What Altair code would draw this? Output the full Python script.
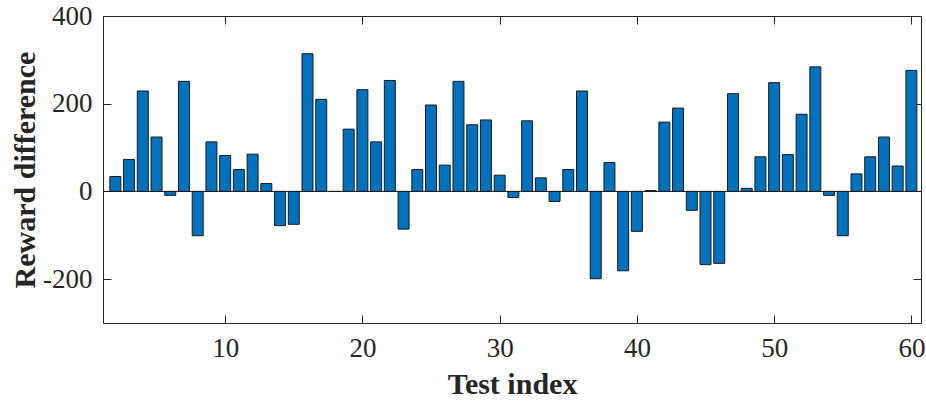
import altair as alt
import pandas as pd

test_index = list(range(2, 61))
reward_diff = [34, 73, 229, 124, -9, 251, -101, 113, 82, 50, 85, 18, -78, -75, 314, 210, 0, 142, 232,
               113, 253, -86, 50, 197, 60, 251, 152, 163, 37, -14, 161, 31, -23, 50, 229, -199, 66, -181, -91,
               2, 158, 190, -43, -167, -164, 223, 7, 79, 248, 84, 176, 284, -9, -101, 40, 79, 124, 58, 276]
x_ticks = [10, 20, 30, 40, 50, 60]
y_ticks = [-200, 0, 200, 400]
x_domain = [1.1, 60.7]
y_domain = [-300, 400]

df = pd.DataFrame({"idx": test_index, "val": reward_diff})
zero_df = pd.DataFrame({"z": [0]})

FONT = "Liberation Serif"
INK = "#262626"
W, H = 818, 307

xs = alt.Scale(domain=x_domain, nice=False, zero=False)
ys = alt.Scale(domain=y_domain, nice=False, zero=False)

common = dict(offset=-8, tickSize=8, domain=False, grid=False, tickColor=INK, tickWidth=1,
              labelFont=FONT, labelFontSize=27, labelColor=INK, labelFlush=False,
              labelOverlap=False)

x_bottom = alt.Axis(orient="bottom", values=x_ticks, labelPadding=12,
                    title="Test index", titleFont=FONT, titleFontSize=30, titleFontWeight="bold",
                    titleColor=INK, titleX=W / 2, titleY=78, titleBaseline="alphabetic",
                    titleAlign="center", **common)
y_left = alt.Axis(orient="left", values=y_ticks, labelPadding=11,
                  labelExpr="'' + datum.value",
                  title="Reward difference", titleFont=FONT, titleFontSize=30, titleFontWeight="bold",
                  titleColor=INK, titleX=-77, titleY=H / 2, titleAngle=270, titleBaseline="alphabetic",
                  titleAlign="center", **common)
x_top = alt.Axis(orient="top", values=x_ticks, labels=False, title=None, **common)
y_right = alt.Axis(orient="right", values=y_ticks, labels=False, title=None, **common)

bars = alt.Chart(df).transform_calculate(
    x0="datum.idx - 0.4", x1="datum.idx + 0.4"
).mark_bar(fill="#0072BD", stroke="#1a1a1a", strokeWidth=1, clip=True).encode(
    x=alt.X("x0:Q", scale=xs, axis=x_bottom),
    x2="x1:Q",
    y=alt.Y("val:Q", scale=ys, axis=y_left),
    y2=alt.datum(0),
)

mirror = alt.Chart(df).mark_point(opacity=0).encode(
    x=alt.X("idx:Q", scale=xs, axis=x_top),
    y=alt.Y("val:Q", scale=ys, axis=y_right),
)

zero = alt.Chart(zero_df).mark_rule(color="#1a1a1a", strokeWidth=1).encode(
    y=alt.Y("z:Q", scale=ys, axis=None)
)

chart = alt.layer(bars, zero, mirror).properties(
    width=W, height=H,
    autosize=alt.AutoSizeParams(type="none"),
    padding={"left": 103, "top": 16, "right": 5, "bottom": 79},
    background="white",
).configure_view(stroke=INK, strokeWidth=1)

chart.save("out.html", embed_options={"renderer": "svg", "actions": False})
